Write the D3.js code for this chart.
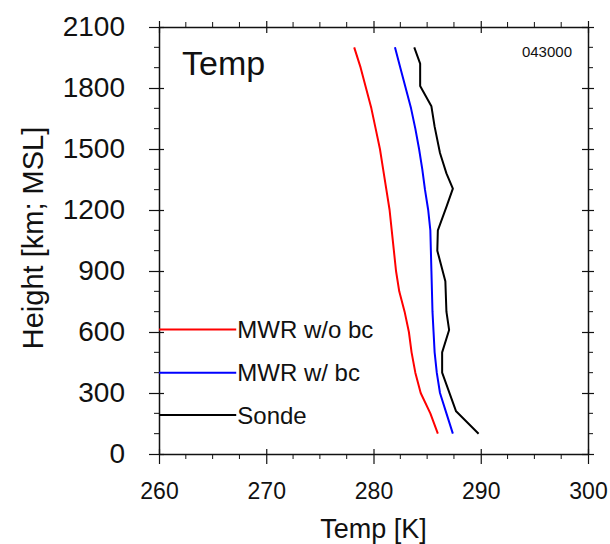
<!DOCTYPE html>
<html>
<head>
<meta charset="utf-8">
<script src="https://cdn.jsdelivr.net/npm/d3@7"></script>
<style>
	body { margin: 0; background: #fff; }
	svg text { font-family: "Liberation Sans", Arial, Helvetica, sans-serif; fill: #111; }
</style>
</head>
<body>
<div id="chart"></div>
<script>
// MWR retrievals, every 100 m
const heights = [100, 200, 300, 400, 500, 600, 700, 800, 900, 1000, 1100, 1200, 1300, 1400, 1500, 1600, 1700, 1800, 1900, 2000];
const tempNoBc = [286.0, 285.3, 284.4, 283.9, 283.55, 283.3, 282.9, 282.4, 282.1, 281.9, 281.7, 281.5, 281.2, 280.9, 280.6, 280.2, 279.8, 279.3, 278.8, 278.2];
const tempBc = [287.4, 286.8, 286.2, 285.9, 285.7, 285.6, 285.5, 285.45, 285.4, 285.35, 285.3, 285.1, 284.8, 284.55, 284.25, 283.9, 283.5, 283.0, 282.5, 282.0];

// radiosonde levels
const sondeHeights = [100, 210, 400, 500, 610, 700, 850, 1000, 1100, 1215, 1305, 1380, 1480, 1610, 1710, 1810, 1920, 2000];
const sondeTemps = [289.8, 287.7, 286.4, 286.4, 287.05, 286.8, 286.7, 285.95, 286.0, 286.8, 287.4, 286.8, 286.2, 285.7, 285.4, 284.35, 284.35, 283.8];

const seriesNames = ['MWR w/o bc', 'MWR w/ bc', 'Sonde'];
const seriesColors = ['#ff0000', '#0000ff', '#000000'];
const legendHeights = [612, 400, 192];

const xTicks = [260, 270, 280, 290, 300];
const yTicks = [0, 300, 600, 900, 1200, 1500, 1800, 2100];

const config = {
	width: 610, height: 544,
	margin: { top: 27, right: 22, bottom: 90, left: 159 }
};

const innerW = config.width - config.margin.left - config.margin.right;
const innerH = config.height - config.margin.top - config.margin.bottom;

const svg = d3.select('#chart').append('svg')
	.attr('width', config.width)
	.attr('height', config.height);

const g = svg.append('g')
	.attr('transform', `translate(${config.margin.left}, ${config.margin.top})`);

const xScale = d3.scaleLinear().domain([260, 300]).range([0, innerW]);
const yScale = d3.scaleLinear().domain([0, 2100]).range([innerH, 0]);

const minorX = d3.range(260, 300.01, 2.5).filter(v => !xTicks.includes(v));
const minorY = d3.range(0, 2100.01, 100).filter(v => !yTicks.includes(v));

// axes: major ticks cross the frame, minor ticks outside
function styleAxis(sel, size) {
	sel.select('.domain').attr('stroke', '#111').attr('stroke-width', 1.5);
	sel.selectAll('.tick line').attr('stroke', '#111').attr('stroke-width', 1.2);
	sel.selectAll('.tick text').style('font-size', size);
}

const xAxisG = g.append('g').attr('transform', `translate(0, ${innerH})`)
	.call(d3.axisBottom(xScale).tickValues(xTicks).tickSizeInner(10).tickSizeOuter(0).tickPadding(19));
styleAxis(xAxisG, '23px');
xAxisG.selectAll('.tick line').attr('y1', -5);
xAxisG.append('g').selectAll('line').data(minorX).join('line')
	.attr('x1', xScale).attr('x2', xScale).attr('y1', 0).attr('y2', 5)
	.attr('stroke', '#111');

const xTopG = g.append('g')
	.call(d3.axisTop(xScale).tickValues(xTicks).tickSizeInner(6).tickSizeOuter(0).tickFormat(''));
styleAxis(xTopG);
xTopG.selectAll('.tick line').attr('y1', 6);
xTopG.append('g').selectAll('line').data(minorX).join('line')
	.attr('x1', xScale).attr('x2', xScale).attr('y1', 0).attr('y2', -5)
	.attr('stroke', '#111');

const yAxisG = g.append('g')
	.call(d3.axisLeft(yScale).tickValues(yTicks).tickFormat(d3.format('d'))
		.tickSizeInner(10).tickSizeOuter(0).tickPadding(24));
styleAxis(yAxisG, '28px');
yAxisG.selectAll('.tick line').attr('x1', 5);
yAxisG.append('g').selectAll('line').data(minorY).join('line')
	.attr('y1', yScale).attr('y2', yScale).attr('x1', 0).attr('x2', -5)
	.attr('stroke', '#111');

const yRightG = g.append('g').attr('transform', `translate(${innerW}, 0)`)
	.call(d3.axisRight(yScale).tickValues(yTicks).tickSizeInner(6).tickSizeOuter(0).tickFormat(''));
styleAxis(yRightG);
yRightG.selectAll('.tick line').attr('x1', -6);
yRightG.append('g').selectAll('line').data(minorY).join('line')
	.attr('y1', yScale).attr('y2', yScale).attr('x1', 0).attr('x2', 5)
	.attr('stroke', '#111');

// profiles
const line = d3.line().x(d => xScale(d[0])).y(d => yScale(d[1]));
const profiles = [
	tempNoBc.map((t, i) => [t, heights[i]]),
	tempBc.map((t, i) => [t, heights[i]]),
	sondeTemps.map((t, i) => [t, sondeHeights[i]])
];

g.append('g').selectAll('path').data(profiles).join('path')
	.attr('fill', 'none')
	.attr('stroke', (_, i) => seriesColors[i])
	.attr('stroke-width', 2)
	.attr('stroke-linejoin', 'round')
	.attr('d', line);

// legend
const legend = g.append('g').selectAll('g').data(seriesNames).join('g')
	.attr('transform', (_, i) => `translate(0, ${yScale(legendHeights[i])})`);
legend.append('line')
	.attr('x1', xScale(260)).attr('x2', xScale(267.2))
	.attr('stroke', (_, i) => seriesColors[i])
	.attr('stroke-width', 2);
legend.append('text')
	.attr('x', xScale(267.3))
	.attr('dy', '0.36em')
	.style('font-size', '24px')
	.text(d => d);

// labels
g.append('text')
	.attr('x', 23).attr('y', 48)
	.style('font-size', '34px')
	.text('Temp');

g.append('text')
	.attr('x', innerW - 16).attr('y', 30)
	.attr('text-anchor', 'end')
	.style('font-size', '15px')
	.text('043000');

g.append('text')
	.attr('text-anchor', 'middle')
	.attr('x', innerW / 2)
	.attr('y', innerH + 84)
	.style('font-size', '27px')
	.text('Temp [K]');

g.append('text')
	.attr('text-anchor', 'middle')
	.attr('transform', 'rotate(-90)')
	.attr('x', -211)
	.attr('y', -116)
	.style('font-size', '29px')
	.text('Height [km; MSL]');
</script>
</body>
</html>
